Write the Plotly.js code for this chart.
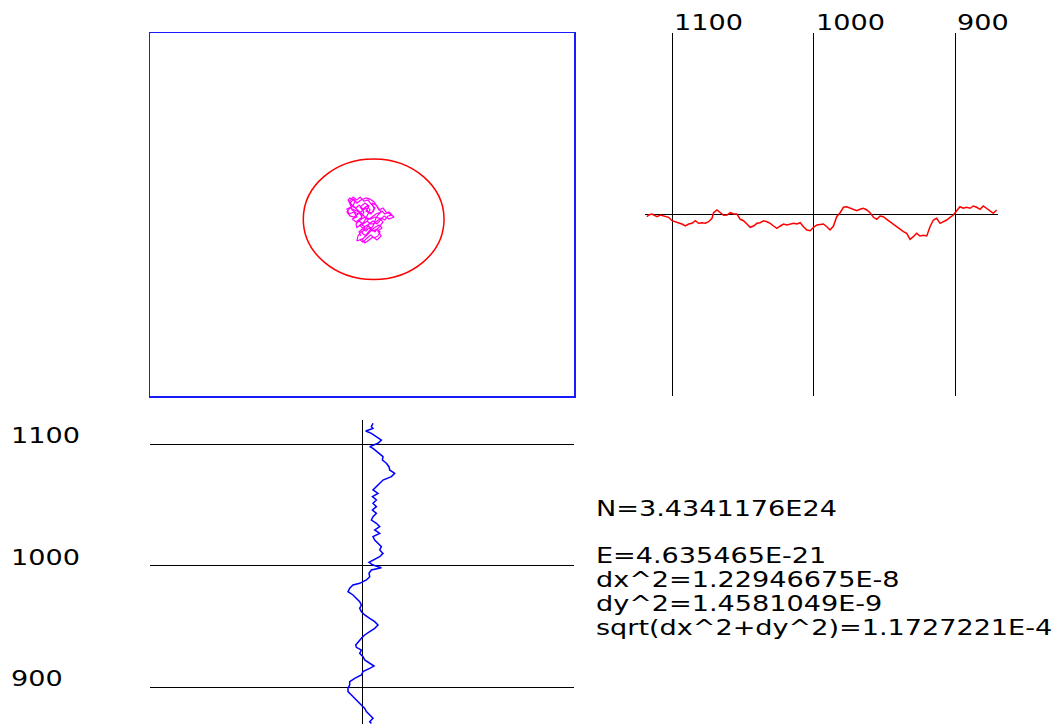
<!DOCTYPE html>
<html>
<head>
<meta charset="utf-8">
<script src="https://cdn.plot.ly/plotly-3.0.1.min.js"></script>
<style>
  html, body { margin: 0; padding: 0; background: #fff; }
  #chart { width: 1062px; height: 724px; }
  .annotation-text { transform-box: fill-box; transform-origin: 0 50%; transform: scaleX(1.29); }
</style>
</head>
<body>
<div id="chart"></div>
<script>
// ---- Data ----
// Top-right panel: x position along the axis, red trace deviation
const redX = [1117.9,1116.7,1114.4,1113.2,1110.8,1108.5,1104.9,1102.6,1100.2,1097.9,1095.5,1093.2,1090.8,1088.4,1086.1,1083.7,1081.4,1079.0,1076.7,1074.3,1071.9,1070.8,1068.4,1066.1,1063.7,1061.3,1059.0,1056.6,1054.3,1051.9,1049.6,1047.2,1044.9,1042.5,1040.1,1037.8,1035.4,1033.1,1030.7,1028.4,1026.0,1023.6,1021.3,1018.9,1016.6,1014.2,1011.9,1009.5,1007.2,1004.8,1002.4,1000.1,997.7,995.4,993.1,990.7,988.4,986.0,983.7,981.3,978.9,976.6,974.2,971.9,969.5,967.2,964.8,962.4,960.1,957.7,955.4,953.0,950.7,948.3,946.0,943.6,941.2,938.9,936.5,934.2,931.8,929.5,927.1,924.8,922.4,920.0,917.7,915.3,913.0,910.6,908.3,905.9,903.5,901.2,898.8,896.5,894.1,891.8,889.4,887.0,884.7,882.3,880.0,877.6,875.3,872.9,870.6];
const redY = [-2.2,-0.5,0.5,-0.5,-2.2,-0.5,-1.5,-2.8,-6.2,-7.2,-8.8,-9.5,-11.5,-9.5,-8.8,-6.2,-8.8,-8.2,-8.8,-7.2,-3.8,1.8,4.5,1.8,-0.8,-0.5,1.8,0.5,0.5,-4.8,-6.2,-9.5,-12.8,-11.5,-8.8,-8.2,-6.2,-7.2,-8.8,-11.5,-13.8,-11.5,-9.5,-10.5,-9.5,-8.8,-9.5,-8.2,-12.2,-15.5,-16.2,-12.8,-10.5,-10.2,-9.5,-12.2,-15.5,-11.5,-2.2,1.8,7.2,7.8,6.2,5.2,3.8,5.2,6.2,4.5,1.8,-2.8,-4.8,-1.5,-2.2,-4.8,-7.2,-10.5,-12.8,-14.8,-17.2,-18.8,-24.8,-22.2,-18.8,-21.5,-20.8,-21.5,-12.2,-5.5,-3.8,-8.8,-7.2,-5.5,-2.8,-0.5,3.8,7.8,6.2,7.2,6.2,8.5,7.2,5.2,8.5,6.2,3.8,1.2,4.5];

// Bottom-left panel: blue trace deviation vs position along the axis
const blueY = [1117.5,1114.7,1113.3,1111.1,1109.2,1106.5,1103.7,1101.0,1098.2,1096.8,1094.6,1092.7,1090.0,1087.2,1084.5,1081.7,1079.0,1076.2,1073.5,1070.7,1068.0,1065.2,1062.5,1059.7,1057.0,1054.2,1051.5,1048.7,1046.0,1043.2,1040.5,1037.7,1035.0,1032.2,1029.5,1026.7,1024.0,1021.2,1018.5,1015.7,1013.0,1010.2,1007.5,1004.7,1002.8,1000.6,998.4,996.5,993.8,991.0,988.3,985.5,984.1,981.4,978.6,975.9,973.1,970.4,967.6,964.9,962.1,959.4,956.6,953.9,951.1,948.4,945.6,942.9,940.2,937.4,934.7,932.7,930.5,927.8,925.0,922.3,919.5,917.3,915.4,912.7,909.9,907.2,904.4,901.7,898.9,896.2,893.4,890.7,887.9,885.2,882.4,879.7,876.9,874.2,871.4,870.0];
const blueX = [11.0,9.4,11.0,3.7,9.4,14.4,19.4,16.0,7.7,11.0,14.4,17.7,21.0,20.4,24.4,27.0,27.7,32.7,29.4,21.0,17.7,14.4,11.0,16.0,10.4,14.4,11.0,14.4,10.4,14.4,11.0,9.4,14.4,17.7,12.7,17.7,11.0,12.7,16.0,19.4,17.7,21.0,17.7,11.0,7.0,11.0,19.4,9.4,7.0,7.7,4.4,-2.3,-9.0,-12.3,-14.0,-9.0,-5.6,-2.3,-0.6,-2.3,-0.6,2.7,7.7,12.7,16.0,12.7,7.7,2.7,-0.6,-4.0,-6.3,-5.6,-0.6,-2.3,1.0,2.7,7.7,12.0,7.7,1.0,-0.6,-7.3,-12.3,-12.3,-14.0,-14.0,-10.6,-7.3,-4.0,-0.6,2.7,4.4,7.7,11.0,7.7,9.4];

// Top-left panel: 2D walk (magenta) and the bounding circle
const walkX = [0.000,-0.019,-0.047,-0.066,-0.057,-0.033,-0.042,-0.071,-0.061,-0.038,-0.024,-0.047,-0.028,-0.005,0.009,-0.009,0.014,0.033,0.019,0.042,0.057,0.047,0.066,0.080,0.099,0.113,0.132,0.151,0.127,0.104,0.085,0.071,0.052,0.033,0.019,-0.005,-0.019,-0.024,0.000,0.014,0.033,0.052,0.071,0.090,0.075,0.094,0.080,0.057,0.038,0.019,0.000,0.014,-0.005,-0.024,-0.028,-0.009,0.014,0.028,0.047,0.066,0.090,0.075,0.057,0.038,0.019,-0.005,-0.024,-0.038,-0.057,-0.047,-0.028,0.000,0.019,0.042,0.061,0.080,0.099,0.080,0.061,0.042,0.024,0.005,-0.009,0.009,0.028,0.038,
  0.024,0.005,-0.014,-0.028,-0.052,-0.061,-0.042,-0.024,-0.009,0.009,0.028,0.042,0.061,0.052,0.033,0.019,0.000,-0.019,-0.038,-0.057,-0.071,-0.057,-0.033,-0.014,0.000,-0.014,0.005,0.024,0.038,0.057,0.071,0.090,0.108,0.123,0.142,0.127,0.108,0.094,0.080,0.066,0.052,0.038,0.024,0.009,-0.009,0.005,0.024,0.042,0.057,0.075,0.085,0.071,0.052,0.033,0.019,0.000,-0.014,-0.005];
const walkY = [0.003,0.025,0.052,0.080,0.091,0.074,0.047,0.030,0.003,0.014,-0.014,-0.025,-0.041,-0.019,0.014,0.041,0.063,0.047,0.019,0.003,0.030,0.063,0.052,0.025,0.036,0.014,0.003,-0.014,-0.025,-0.008,-0.030,-0.052,-0.036,-0.052,-0.080,-0.096,-0.118,-0.146,-0.135,-0.157,-0.140,-0.124,-0.140,-0.118,-0.091,-0.074,-0.058,-0.074,-0.096,-0.118,-0.102,-0.069,-0.052,-0.074,-0.052,-0.030,-0.014,-0.030,-0.014,0.003,0.014,0.041,0.069,0.085,0.091,0.080,0.063,0.085,0.063,0.025,0.008,0.003,-0.019,-0.025,-0.014,-0.019,-0.041,-0.069,-0.096,-0.074,-0.058,-0.074,-0.063,-0.041,-0.003,0.025,
  0.047,0.030,0.052,0.036,0.047,0.069,0.096,0.080,0.096,0.074,0.080,0.058,0.036,0.014,0.008,0.036,0.019,0.003,-0.014,-0.008,0.014,0.036,0.025,0.014,-0.014,-0.036,-0.052,-0.036,-0.052,-0.052,-0.036,-0.019,-0.030,-0.008,-0.003,0.014,0.003,0.019,0.003,-0.019,-0.063,-0.085,-0.102,-0.129,-0.140,-0.152,-0.129,-0.113,-0.129,-0.118,-0.096,-0.080,-0.091,-0.074,-0.091,-0.080,-0.096,-0.118];
const circleCenterX = 0.055;
const circleCenterY = -0.026;
const circleRadius = 0.332;

// Tick values and labels shared by the two 1D panels
const tickVals = [1100, 1000, 900];
const tickText = ['1100', '1000', '900'];

// Summary text
const statLines = ['N=3.4341176E24', 'E=4.635465E-21', 'dx^2=1.22946675E-8', 'dy^2=1.4581049E-9', 'sqrt(dx^2+dy^2)=1.1727221E-4'];

// ---- Layout helpers ----
const W = 1062, H = 724;
const px = v => v / W;
const py = v => 1 - v / H;
const FONT = {family: 'DejaVu Sans, Verdana, sans-serif', size: 21, color: '#000'};

const hidden = {showgrid: false, zeroline: false, showticklabels: false, ticks: '', showline: false, fixedrange: true};

const traces = [
  {x: walkX, y: walkY, xaxis: 'x', yaxis: 'y', type: 'scatter', mode: 'lines',
   line: {color: '#ff00ff', width: 1.2}, hoverinfo: 'skip'},
  {x: redX, y: redY, xaxis: 'x2', yaxis: 'y2', type: 'scatter', mode: 'lines',
   line: {color: '#ff0000', width: 1.5}, hoverinfo: 'skip'},
  {x: blueX, y: blueY, xaxis: 'x3', yaxis: 'y3', type: 'scatter', mode: 'lines',
   line: {color: '#0000ff', width: 1.5}, hoverinfo: 'skip'}
];

const annotations = [];
tickVals.forEach((v, i) => {
  annotations.push({xref: 'x2', x: v, yref: 'paper', y: py(22.5), xanchor: 'left', yanchor: 'middle',
    text: tickText[i], showarrow: false, font: FONT});
  annotations.push({xref: 'paper', x: px(9), yref: 'y3', y: v, yshift: 8, xanchor: 'left', yanchor: 'middle',
    text: tickText[i], showarrow: false, font: FONT});
});
const statY = [509, 555.5, 579.5, 603.5, 627.5];
statLines.forEach((t, i) => {
  annotations.push({xref: 'paper', x: px(594), yref: 'paper', y: py(statY[i]), xanchor: 'left', yanchor: 'middle',
    text: t, showarrow: false, font: FONT});
});

const layout = {
  width: W, height: H,
  margin: {l: 0, r: 0, t: 0, b: 0, pad: 0},
  paper_bgcolor: '#ffffff', plot_bgcolor: '#ffffff',
  showlegend: false,
  xaxis: Object.assign({}, hidden, {domain: [px(150), px(574)], range: [-1, 1], anchor: 'y',
    showline: true, mirror: true, linecolor: '#1a1aff', linewidth: 1.5}),
  yaxis: Object.assign({}, hidden, {domain: [py(396), py(33)], range: [-1, 1], anchor: 'x',
    showline: true, mirror: true, linecolor: '#1a1aff', linewidth: 1.5}),
  xaxis2: Object.assign({}, hidden, {domain: [px(645), px(998)], range: [1119.3, 869.6], anchor: 'y2',
    tickmode: 'array', tickvals: tickVals, showgrid: true, gridcolor: '#000', gridwidth: 1}),
  yaxis2: Object.assign({}, hidden, {domain: [py(396), py(33)], range: [-181.5, 181.5], anchor: 'x2',
    zeroline: true, zerolinecolor: '#000', zerolinewidth: 1}),
  xaxis3: Object.assign({}, hidden, {domain: [px(150), px(574)], range: [-212, 212], anchor: 'y3',
    zeroline: true, zerolinecolor: '#000', zerolinewidth: 1}),
  yaxis3: Object.assign({}, hidden, {domain: [0, py(420)], range: [869.5, 1120.2], anchor: 'x3',
    tickmode: 'array', tickvals: tickVals, showgrid: true, gridcolor: '#000', gridwidth: 1}),
  shapes: [
    {type: 'circle', xref: 'x', yref: 'y',
     x0: circleCenterX - circleRadius, x1: circleCenterX + circleRadius,
     y0: circleCenterY - circleRadius, y1: circleCenterY + circleRadius,
     line: {color: '#ff0000', width: 1.5}}
  ],
  annotations: annotations
};

Plotly.newPlot('chart', traces, layout, {displayModeBar: false, staticPlot: true});
</script>
</body>
</html>
